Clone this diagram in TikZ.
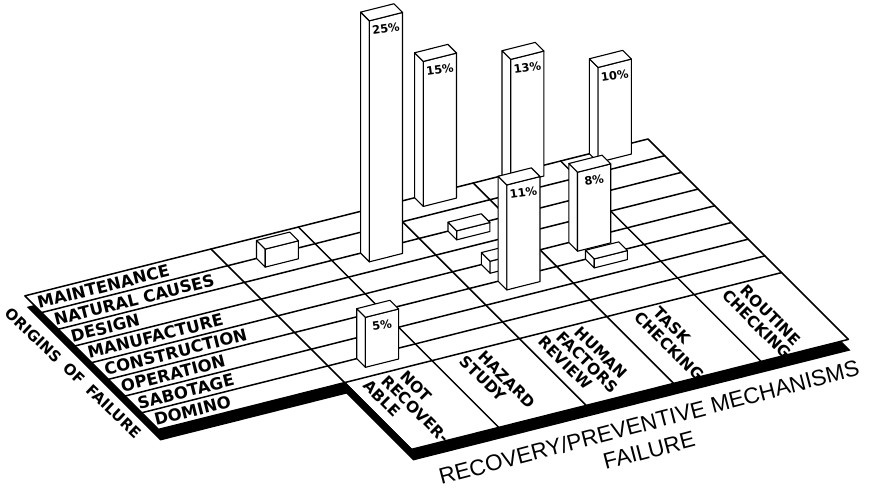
\documentclass[tikz,border=0pt]{standalone}
\usepackage{fontspec}
\setmainfont{DejaVu Sans}
\newfontfamily\titlefont{Liberation Sans}

% a box standing on the board: column #1, row #2, height #3 (in pt)
\newcommand\pillar[3]{%
  \pgfmathsetmacro\pilL{#1+0.33}%
  \pgfmathsetmacro\pilR{#1+0.71}%
  \pgfmathsetmacro\pilF{#2+0.52}%
  \filldraw[barline] (\pilL,#2,0) -- (\pilL,\pilF,0) -- (\pilL,\pilF,#3) -- (\pilL,#2,#3) -- cycle;
  \filldraw[barline] (\pilL,\pilF,0) -- (\pilR,\pilF,0) -- (\pilR,\pilF,#3) -- (\pilL,\pilF,#3) -- cycle;
  \filldraw[barline] (\pilL,#2,#3) -- (\pilR,#2,#3) -- (\pilR,\pilF,#3) -- (\pilL,\pilF,#3) -- cycle;
}

\begin{document}
\begin{tikzpicture}[
  x={(87.4pt,22pt)}, y={(16.7pt,-16.7pt)}, z={(0pt,1pt)},
  gridline/.style={line width=1.5pt, line cap=round, line join=round},
  barline/.style={fill=white, draw=black, line width=1.1pt, line join=round},
  rowlbl/.style={font=\fontsize{16.5}{17}\selectfont\bfseries, rotate=14.13, anchor=west, inner sep=0pt},
  collbl/.style={font=\fontsize{15.5}{16}\selectfont\bfseries, rotate=-45, anchor=base west, inner sep=0pt},
  pct/.style={font=\fontsize{11.5}{12}\selectfont\bfseries, rotate=8, inner sep=0pt},
  axistitle/.style={font=\titlefont\fontsize{22.5}{23}\selectfont, rotate=14.7, inner sep=0pt, anchor=base}
]
\useasboundingbox (-211pt,249pt) rectangle (659pt,-242pt);

% thickness of the board, seen along its left and front edges
\fill[black, xshift=2pt, yshift=-11pt]
  (-2.13,0) -- (5,0) -- (5,12) -- (0,12) -- (0,8) -- (-2.13,8) -- cycle;
% the board itself
\filldraw[fill=white, gridline]
  (-2.13,0) -- (5,0) -- (5,12) -- (0,12) -- (0,8) -- (-2.13,8) -- cycle;
\foreach \r in {1,...,7} \draw[gridline] (-2.13,\r) -- (5,\r);
\draw[gridline] (0,8) -- (5,8);
\foreach \c in {0,...,4} \draw[gridline] (\c,0) -- (\c,12);

% origins of failure, one per row
\foreach \t [count=\k from 0] in {MAINTENANCE,NATURAL CAUSES,DESIGN,MANUFACTURE,CONSTRUCTION,OPERATION,SABOTAGE,DOMINO}
  \node[rowlbl] (o\k) at (-2.08,\k+0.5) {\t};

% recovery / preventive mechanisms, one per column
\node[collbl] (m0a) at (0.546,8.40) {NOT};
\node[collbl] (m0b) at (0.335,8.40) {RECOVER-};
\node[collbl] (m0c) at (0.124,8.40) {ABLE};
\node[collbl] (m1a) at (1.440,8.40) {HAZARD};
\node[collbl] (m1b) at (1.229,8.40) {STUDY};
\node[collbl] (m2a) at (2.546,8.40) {HUMAN};
\node[collbl] (m2b) at (2.335,8.40) {FACTORS};
\node[collbl] (m2c) at (2.124,8.40) {REVIEW};
\node[collbl] (m3a) at (3.440,8.40) {TASK};
\node[collbl] (m3b) at (3.229,8.40) {CHECKING};
\node[collbl] (m4a) at (4.440,8.40) {ROUTINE};
\node[collbl] (m4b) at (4.229,8.40) {CHECKING};

% bars, back rows first
\pillar{4}{0}{95}  \node[pct] (p10) at (4.52,0.52,83) {10\%};
\pillar{3}{0}{125} \node[pct] (p13) at (3.52,0.52,113) {13\%};
\pillar{2}{0}{145} \node[pct] (p15) at (2.52,0.52,133) {15\%};
\pillar{0}{1}{18}
\pillar{1}{2}{241} \node[pct] (p25) at (1.52,2.52,229) {25\%};
\pillar{2}{2}{9}
\pillar{3}{4}{79}  \node[pct] (p8) at (3.52,4.52,67) {8\%};
\pillar{2}{4}{12}
\pillar{3}{5}{9}
\pillar{2}{5}{105} \node[pct] (p11) at (2.52,5.52,93) {11\%};
\pillar{0}{7}{50}  \node[pct] (p5) at (0.52,7.52,38) {5\%};

% axis titles
\begin{scope}[shift={(-211pt,249pt)}, x=1pt, y=-1pt]
  \node[axistitle] (mech) at (651,430) {RECOVERY/PREVENTIVE MECHANISMS};
  \node[axistitle] (fail) at (651,458) {FAILURE};
  \node[font=\fontsize{15}{16}\selectfont\bfseries, rotate=-43.5, inner sep=0pt]
    (orig) at (73,373) {ORIGINS\hspace{0.6em}OF\hspace{0.6em}FAILURE};
\end{scope}
\end{tikzpicture}
\end{document}
